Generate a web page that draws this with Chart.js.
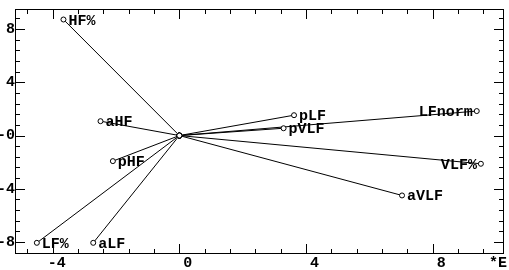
<!DOCTYPE html>
<html>
<head>
<meta charset="utf-8">
<script src="https://cdn.jsdelivr.net/npm/chart.js@4.4.1/dist/chart.umd.min.js"></script>
<style>
  html, body { margin: 0; padding: 0; background: #fff; }
</style>
</head>
<body>
<canvas id="biplot" width="509" height="270"></canvas>
<script>
'use strict';

// ---- data: variable loadings (first two components) ----
const varNames = ['HF%', 'aHF', 'pHF', 'LF%', 'aLF', 'pLF', 'pVLF', 'LFnorm', 'VLF%', 'aVLF'];
const loadX    = [-3.66, -2.49, -2.10, -4.50, -2.72, 3.62, 3.29, 9.39, 9.52, 7.03];
const loadY    = [ 8.72,  1.08, -1.92, -8.06, -8.06, 1.53, 0.55, 1.84, -2.12, -4.50];

const xTicks      = [-4, 0, 4, 8];
const xTickLabels = ['-4', '0', '4', '8'];
const yTicks      = [8, 4, 0, -4, -8];
const yTickLabels = ['8', '4', '-0', '-4', '-8'];

const FONT = 'bold 15px "Liberation Mono"';
const LEFT_LABELS = ['LFnorm', 'VLF%'];   // names drawn to the left of their point

// inward ticks on all four sides + box frame
const frameTicks = {
  id: 'frameTicks',
  afterDraw(chart) {
    const { ctx, chartArea: a } = chart;
    const xs = chart.scales.x, ys = chart.scales.y;
    ctx.save();
    ctx.strokeStyle = '#000';
    ctx.lineWidth = 1;
    ctx.strokeRect(Math.round(a.left) + 0.5, Math.round(a.top) + 0.5,
                   Math.round(a.right - a.left) - 1, Math.round(a.bottom - a.top) - 1);
    ctx.beginPath();
    for (let i = -30; i <= 30; i++) {
      const v = i * 0.8;
      const major = i % 5 === 0;
      const len = major ? 10 : 5;
      if (v > xs.min && v < xs.max) {
        const px = Math.round(xs.getPixelForValue(v)) + 0.5;
        ctx.moveTo(px, a.bottom); ctx.lineTo(px, a.bottom - len);
        ctx.moveTo(px, a.top);    ctx.lineTo(px, a.top + len);
      }
      if (v > ys.min && v < ys.max) {
        const py = Math.round(ys.getPixelForValue(v)) + 0.5;
        ctx.moveTo(a.left, py);  ctx.lineTo(a.left + len, py);
        ctx.moveTo(a.right, py); ctx.lineTo(a.right - len, py);
      }
    }
    ctx.stroke();

    ctx.fillStyle = '#000';
    ctx.font = FONT;
    ctx.textAlign = 'left';
    ctx.textBaseline = 'alphabetic';
    ctx.fillText('*E', a.right - 15, a.bottom + 13);
    ctx.restore();
  }
};

// variable names next to their loading points
const pointLabels = {
  id: 'pointLabels',
  afterDatasetsDraw(chart) {
    const { ctx } = chart;
    const xs = chart.scales.x, ys = chart.scales.y;
    ctx.save();
    ctx.fillStyle = '#000';
    ctx.font = FONT;
    ctx.textBaseline = 'alphabetic';
    varNames.forEach((name, i) => {
      const px = xs.getPixelForValue(loadX[i]);
      const py = ys.getPixelForValue(loadY[i]);
      if (LEFT_LABELS.includes(name)) {
        ctx.textAlign = 'right';
        ctx.fillText(name, px - 4, py + 5);
      } else {
        ctx.textAlign = 'left';
        ctx.fillText(name, px + 5, py + 5);
      }
    });
    ctx.restore();
  }
};

const datasets = varNames.map((name, i) => ({
  label: name,
  data: [{ x: 0, y: 0 }, { x: loadX[i], y: loadY[i] }],
  showLine: true,
  borderColor: '#000',
  borderWidth: 1,
  pointRadius: 2.5,
  pointBorderWidth: 1,
  pointBackgroundColor: '#fff',
  pointBorderColor: '#000',
  clip: false,
}));

new Chart(document.getElementById('biplot'), {
  type: 'scatter',
  data: { datasets },
  options: {
    responsive: false,
    animation: false,
    layout: { padding: { top: 5, right: 5, left: 0, bottom: 0 } },
    plugins: {
      legend:  { display: false },
      tooltip: { enabled: false },
    },
    scales: {
      x: {
        type: 'linear',
        min: -5.19,
        max: 10.25,
        border: { display: false },
        grid:   { display: false, drawTicks: false },
        afterBuildTicks: s => { s.ticks = xTicks.map(v => ({ value: v })); },
        afterFit: s => { s.height = 16; },
        ticks: {
          font: { family: 'Liberation Mono', size: 15, weight: 'bold' },
          color: '#000',
          padding: 0,
          maxRotation: 0,
          autoSkip: false,
          labelOffset: 4,
          callback: v => {
            const lbl = xTickLabels[xTicks.indexOf(v)];
            return lbl.length < 2 ? ' ' + lbl : lbl;
          },
        },
      },
      y: {
        type: 'linear',
        min: -8.9,
        max: 9.51,
        border: { display: false },
        grid:   { display: false, drawTicks: false },
        afterBuildTicks: s => { s.ticks = yTicks.map(v => ({ value: v })); },
        afterFit: s => { s.width = 15; },
        ticks: {
          font: { family: 'Liberation Mono', size: 15, weight: 'bold' },
          color: '#000',
          padding: 0,
          autoSkip: false,
          callback: v => yTickLabels[yTicks.indexOf(v)],
        },
      },
    },
  },
  plugins: [frameTicks, pointLabels],
});
</script>
</body>
</html>
